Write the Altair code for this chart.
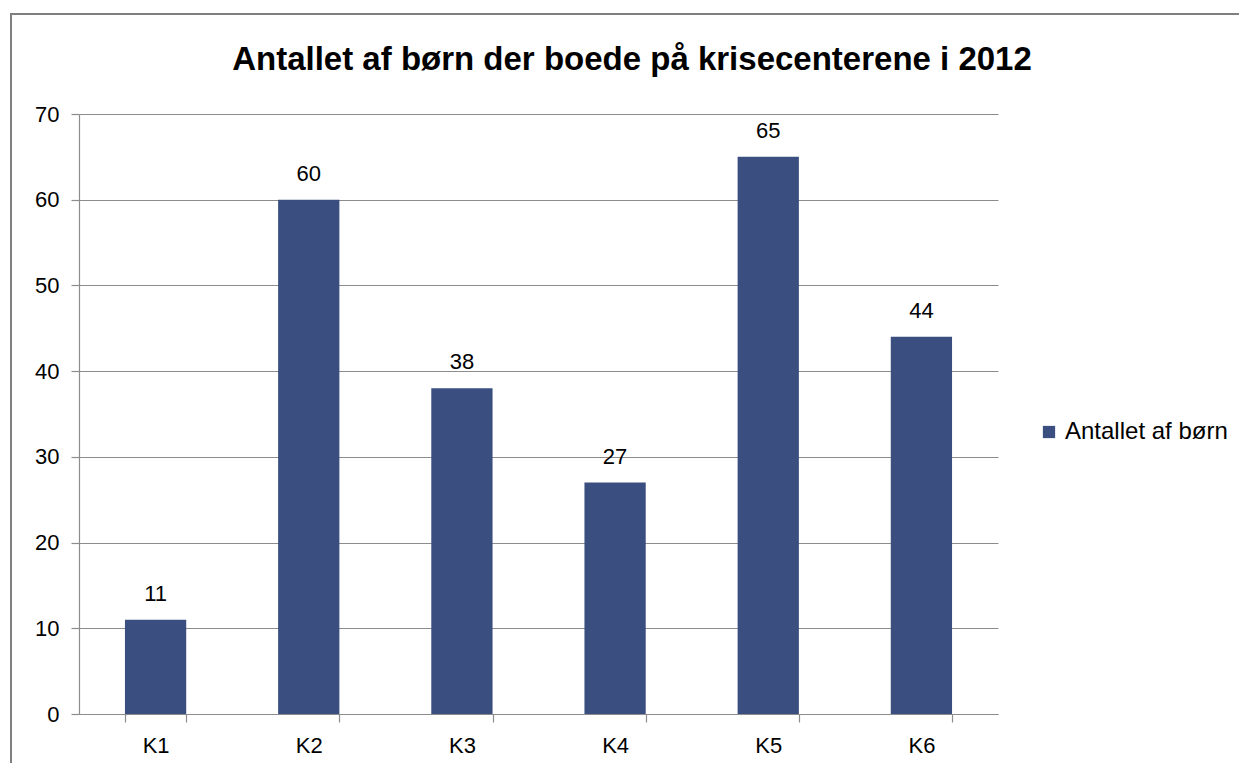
import altair as alt
import pandas as pd

categories = ["K1", "K2", "K3", "K4", "K5", "K6"]
values = [11, 60, 38, 27, 65, 44]
series_name = "Antallet af børn"
title_text = "Antallet af børn der boede på krisecenterene i 2012"
y_ticks = [0, 10, 20, 30, 40, 50, 60, 70]

df = pd.DataFrame({"cat": categories, "val": values, "series": [series_name] * len(categories)})
title_df = pd.DataFrame({"t": [title_text]})

FONT = "Liberation Sans"
BAR = "#3A4F80"
GRID = "#8C8C8C"

W, H = 919, 600

x_enc = alt.X("cat:N", sort=categories,
              scale=alt.Scale(paddingInner=0.6, paddingOuter=0.3),
              axis=alt.Axis(title=None, labelAngle=0, labelFontSize=22, labelFont=FONT,
                            labelColor="black", labelPadding=13, tickSize=8, grid=False,
                            tickColor=GRID, domainColor=GRID, tickBand="extent",
                            domainWidth=1.2, tickWidth=1.2))
y_enc = alt.Y("val:Q", scale=alt.Scale(domain=[0, 70], nice=False),
              axis=alt.Axis(title=None, values=y_ticks, labelFontSize=22, labelFont=FONT,
                            labelColor="black", labelPadding=12, tickSize=8,
                            tickColor=GRID, domainColor=GRID, gridColor=GRID,
                            grid=True, domainWidth=1.2, tickWidth=1.2, gridWidth=1.2))

bars = alt.Chart(df).mark_bar(color=BAR).encode(
    x=x_enc,
    y=y_enc,
    color=alt.Color("series:N", scale=alt.Scale(range=[BAR]),
                    legend=alt.Legend(title=None, orient="none", legendX=958, legendY=306,
                                      symbolType="square", symbolSize=150, symbolStrokeWidth=0,
                                      labelFontSize=24, labelFont=FONT, labelColor="black",
                                      labelOffset=4, labelLimit=400)),
)

labels = alt.Chart(df).mark_text(baseline="bottom", dy=-14, fontSize=22, font=FONT, color="black").encode(
    x=alt.X("cat:N", sort=categories), y="val:Q", text="val:Q"
)

title = alt.Chart(title_df).mark_text(fontSize=33, font=FONT, fontWeight="bold", color="black",
                                      align="center", baseline="alphabetic", clip=False).encode(
    x=alt.value(553), y=alt.value(-44), text="t:N"
)

border_left = alt.Chart(df).mark_rule(color="#7F7F7F", strokeWidth=2, clip=False).encode(
    x=alt.value(-68), y=alt.value(-100), y2=alt.value(700)
)
border_top = alt.Chart(df).mark_rule(color="#7F7F7F", strokeWidth=2, clip=False).encode(
    x=alt.value(-69), x2=alt.value(1200), y=alt.value(-100)
)

chart = alt.layer(bars, labels, title, border_left, border_top).properties(
    width=W, height=H,
    autosize=alt.AutoSizeParams(type="none"),
    padding={"left": 71, "top": 106, "right": 241, "bottom": 49},
).configure(background="white").configure_view(stroke=None)

chart.save("out.html", embed_options={"renderer": "svg", "actions": False})
